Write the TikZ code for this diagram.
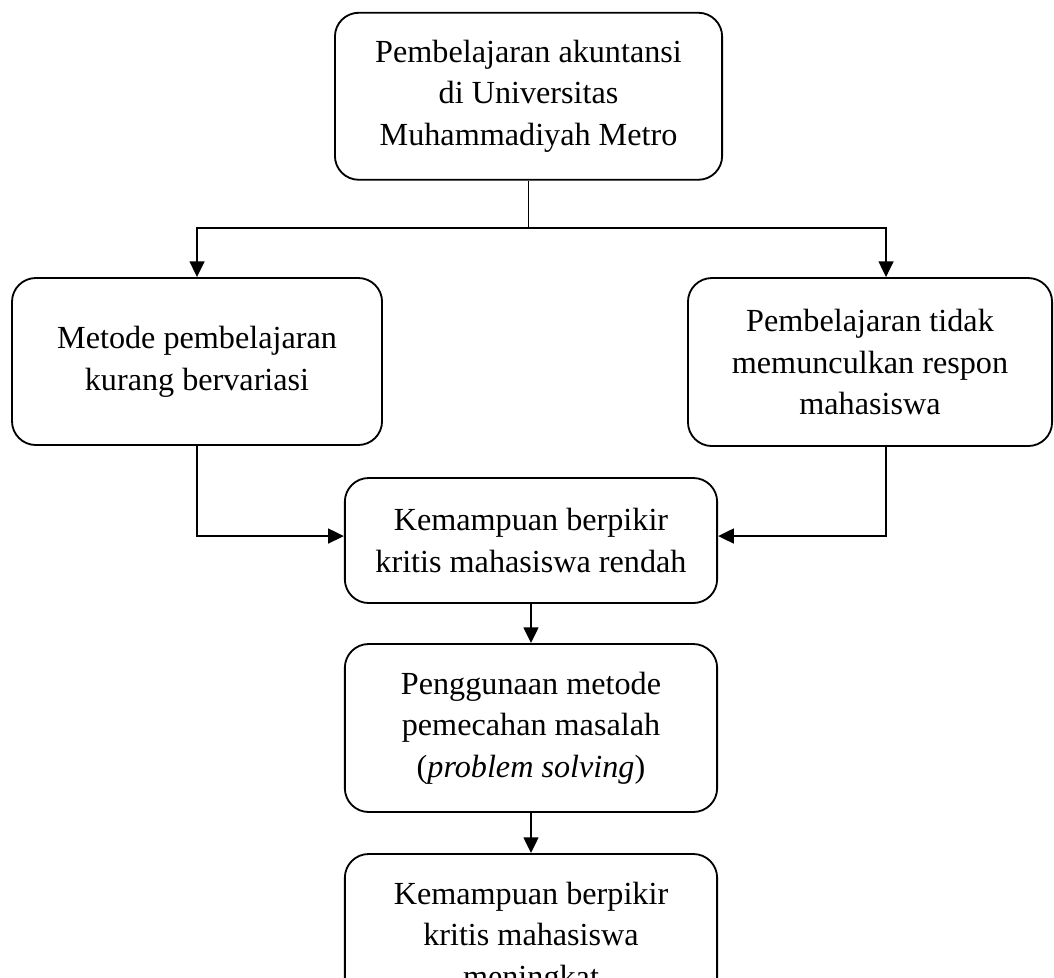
\documentclass[tikz,border=0pt]{standalone}
\usepackage{fontspec}
\setmainfont{Liberation Serif}
\usepackage{tikz}
\usetikzlibrary{arrows.meta, positioning, calc}

\begin{document}
\begin{tikzpicture}[
				flowbox/.style={rectangle, rounded corners=0.32cm, draw=black, line width=0.7pt, align=center, font=\fontsize{12.3}{15.9}\selectfont},
				arr/.style={line width=0.9pt, -{Triangle[length=6pt,width=5.6pt]}}
				]
				\useasboundingbox (0,0) rectangle (14.155,-13.121);
				% Top
				\node[flowbox, minimum width=5.2cm, minimum height=2.243cm] (awal) at (7.098,-1.293) {Pembelajaran akuntansi\\di Universitas\\Muhammadiyah Metro};
				
				% Two causes
				\node[flowbox, minimum width=4.97cm, minimum height=2.243cm] (metode) at (2.646,-4.855) {Metode pembelajaran\\kurang bervariasi};
				\node[flowbox, minimum width=4.89cm, minimum height=2.256cm] (respon) at (11.684,-4.862) {Pembelajaran tidak\\memunculkan respon\\mahasiswa};
				
				% Chain
				\node[flowbox, minimum width=5.0cm, minimum height=1.679cm] (rendah) at (7.131,-7.259) {Kemampuan berpikir\\kritis mahasiswa rendah};
				\node[flowbox, minimum width=5.0cm, minimum height=2.256cm] (solusi) at (7.131,-9.777) {Penggunaan metode\\pemecahan masalah\\(\textit{problem solving})};
				\node[flowbox, minimum width=5.0cm, minimum height=2.256cm] (hasil) at (7.131,-12.597) {Kemampuan berpikir\\kritis mahasiswa\\meningkat};
				
				% Connectors
				\coordinate (cabang) at (7.098,-3.062);
				\draw[line width=0.7pt] (awal.south) -- (cabang);
				\draw[arr] (cabang) -| (metode.north);
				\draw[arr] (cabang) -| ([xshift=0.215cm]respon.north);
				\draw[arr] (metode.south) |- ([yshift=0.06cm]rendah.west);
				\draw[arr] ([xshift=0.215cm]respon.south) |- ([yshift=0.06cm]rendah.east);
				\draw[arr] (rendah.south) -- (solusi.north);
				\draw[arr] (solusi.south) -- (hasil.north);
			\end{tikzpicture}
\end{document}
